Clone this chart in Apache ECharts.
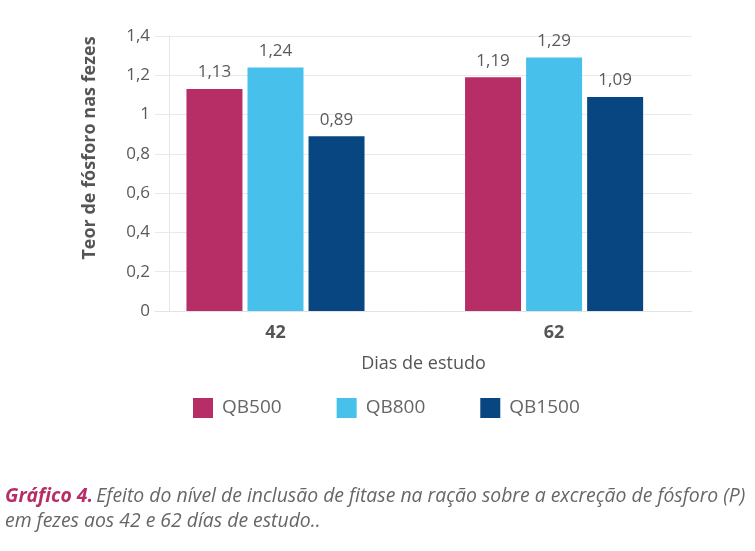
<!DOCTYPE html>
<html>
<head>
<meta charset="utf-8">
<script src="https://cdn.jsdelivr.net/npm/echarts@6/dist/echarts.min.js"></script>
<style>
	html, body { margin: 0; padding: 0; background: #fff; }
	#chart { width: 755px; height: 551px; }
</style>
</head>
<body>
<div id="chart"></div>
<script>
// dias de estudo (posição no eixo x) e rótulos
const days = [42, 62];
const dayLabels = ['42', '62'];
const seriesNames = ['QB500', 'QB800', 'QB1500'];
const qb500 = [1.13, 1.19];
const qb800 = [1.24, 1.29];
const qb1500 = [0.89, 1.09];
const yMin = 0, yMax = 1.4, yStep = 0.2;
const colors = ['#b72d66', '#48c0ec', '#074680'];

const fontFamily = '"Open Sans", sans-serif';
const toComma = (v, d) => (d == null ? String(Math.round(v * 100) / 100) : v.toFixed(d)).replace('.', ',');

const chart = echarts.init(document.getElementById('chart'));

function makeSeries(name, values, color) {
	return {
		name: name,
		type: 'bar',
		barWidth: 56,
		barGap: '9%',
		data: days.map((d, i) => [d, values[i]]),
		itemStyle: { color: color },
		label: {
			show: true,
			position: 'top',
			distance: 8,
			fontFamily: fontFamily,
			fontSize: 17,
			color: '#5a5a5a',
			formatter: p => toComma(p.value[1], 2)
		}
	};
}

const option = {
	animation: false,
	textStyle: { fontFamily: fontFamily },
	grid: { left: 155, right: 63, top: 36, bottom: 240 },
	legend: {
		data: seriesNames,
		left: 193,
		top: 398,
		padding: 0,
		icon: 'rect',
		itemWidth: 20,
		itemHeight: 20,
		itemGap: 55,
		textStyle: { fontFamily: fontFamily, fontSize: 19, color: '#666', padding: [0, 0, 0, 4] }
	},
	xAxis: {
		type: 'value',
		min: 33.35,
		max: 71.9,
		name: 'Dias de estudo',
		nameLocation: 'middle',
		nameGap: 44,
		nameTextStyle: { fontFamily: fontFamily, fontSize: 18, color: '#555' },
		axisLine: { show: true, lineStyle: { color: '#e3e3e3', width: 1 } },
		axisTick: { show: false },
		splitLine: { show: false },
		axisLabel: {
			customValues: days,
			margin: 13,
			fontFamily: fontFamily,
			fontSize: 18,
			fontWeight: 'bold',
			color: '#555',
			formatter: v => dayLabels[days.indexOf(v)] || ''
		}
	},
	yAxis: {
		type: 'value',
		min: yMin,
		max: yMax,
		interval: yStep,
		offset: -14,
		axisLine: { show: true, lineStyle: { color: '#e6e6e6', width: 1 } },
		axisTick: { show: false },
		splitLine: { show: true, lineStyle: { color: '#e9e9e9', width: 1 } },
		axisLabel: {
			margin: 19,
			fontFamily: fontFamily,
			fontSize: 17,
			color: '#5a5a5a',
			formatter: v => toComma(v)
		}
	},
	graphic: [
		{
			type: 'text',
			x: 90,
			y: 148,
			rotation: Math.PI / 2,
			style: {
				text: 'Teor de fósforo nas fezes',
				fontFamily: fontFamily,
				fontSize: 18,
				fontWeight: 'bold',
				fill: '#555',
				textAlign: 'center',
				textVerticalAlign: 'middle'
			}
		},
		{
			type: 'text',
			x: 5,
			y: 484,
			style: {
				text: '{b|Gráfico 4.} {n|Efeito do nível de inclusão de fitase na ração sobre a excreção de fósforo (P)}\n{n|em fezes aos 42 e 62 días de estudo..}',
				rich: {
					b: { fontFamily: fontFamily, fontSize: 19.4, fontStyle: 'italic', fontWeight: 'bold', fill: '#b72d66', lineHeight: 25 },
					n: { fontFamily: fontFamily, fontSize: 19.4, fontStyle: 'italic', fill: '#666', lineHeight: 25 }
				}
			}
		}
	],
	series: [
		makeSeries(seriesNames[0], qb500, colors[0]),
		makeSeries(seriesNames[1], qb800, colors[1]),
		makeSeries(seriesNames[2], qb1500, colors[2])
	]
};

chart.setOption(option);
</script>
</body>
</html>
